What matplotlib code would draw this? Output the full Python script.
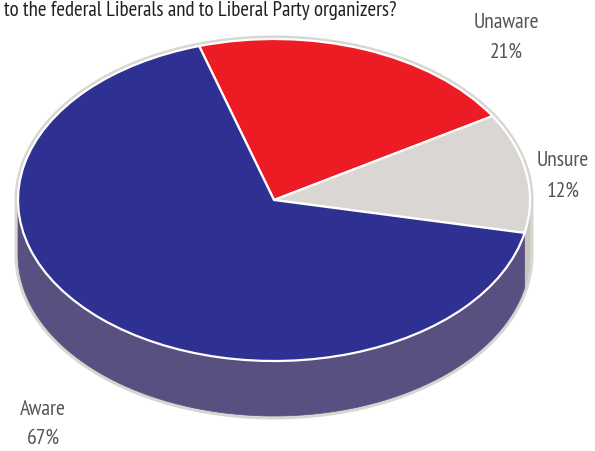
import numpy as np
import matplotlib.pyplot as plt
from matplotlib.patches import Polygon

# survey shares
labels = ["Unaware", "Unsure", "Aware"]
shares = [21, 12, 67]
top_colors = ["#ed1c24", "#d9d6d3", "#2e3192"]
side_colors = ["#a8141a", "#c9c5c1", "#585081"]

W, H = 595, 452
CX, CY = 274, 201      # pie centre in pixels
RX, RY = 256, 161      # ellipse radii in pixels
DEPTH = 55 / RY        # thickness in y data units

fig = plt.figure(figsize=(W / 100, H / 100), dpi=100)
ax = fig.add_axes([0, 0, 1, 1])

wedges, _ = ax.pie(shares, colors=top_colors, startangle=107, counterclock=False,
                   radius=1, center=(0, 0),
                   wedgeprops=dict(edgecolor="white", linewidth=1.6, zorder=3))

# silhouette outline behind everything
back = np.linspace(0, np.pi, 200)
front = np.linspace(np.pi, 2 * np.pi, 200)
sil_x = np.concatenate([np.cos(back), np.cos(front)])
sil_y = np.concatenate([np.sin(back), np.sin(front) - DEPTH])
ax.add_patch(Polygon(np.column_stack([sil_x, sil_y]), closed=True, facecolor="#d6d3cf",
                     edgecolor="#d9d6d2", linewidth=5, zorder=1))

# side walls for the front half
for w, c in zip(wedges, side_colors):
    t1, t2 = sorted((w.theta1, w.theta2))
    for k in (-1, 0, 1):
        a = max(t1, -180 + 360 * k)
        b = min(t2, 360 * k)
        if b <= a:
            continue
        ang = np.radians(np.linspace(a, b, 120))
        xs = np.concatenate([np.cos(ang), np.cos(ang[::-1])])
        ys = np.concatenate([np.sin(ang), np.sin(ang[::-1]) - DEPTH])
        ax.add_patch(Polygon(np.column_stack([xs, ys]), closed=True, facecolor=c,
                             edgecolor=c, linewidth=0.5, zorder=2))

ax.set_aspect("auto")
ax.set_xlim(-CX / RX, (W - CX) / RX)
ax.set_ylim(-(H - CY) / RY, CY / RY)
ax.axis("off")

def px(x, y):
    return (x - CX) / RX, (CY - y) / RY

font = ["PT Sans Narrow", "DejaVu Sans"]
lab_pos = {"Unaware": (506, 22, 52), "Unsure": (563, 161, 191), "Aware": (43, 410, 438)}
for name, s in zip(labels, shares):
    x, y1, y2 = lab_pos[name]
    ax.text(*px(x, y1), name, ha="center", va="center", fontsize=15.5,
            color="#555555", family=font)
    ax.text(*px(x, y2), f"{s}%", ha="center", va="center", fontsize=15.5,
            color="#555555", family=font)

ax.text(*px(397, 16), "to the federal Liberals and to Liberal Party organizers?",
        ha="right", va="baseline", fontsize=15, color="#231f20", family=font)

fig.savefig("out.png", dpi=100)
